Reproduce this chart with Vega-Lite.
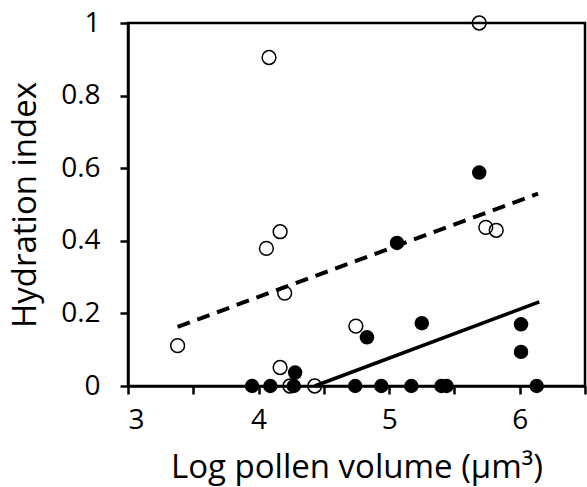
{
  "$schema": "https://vega.github.io/schema/vega-lite/v6.json",
  "width": 457,
  "height": 363,
  "autosize": {"type": "none"},
  "padding": {"left": 128, "top": 23, "right": 2, "bottom": 101},
  "background": "white",
  "config": {
    "view": {"stroke": "black", "strokeWidth": 2.5},
    "font": "Open Sans",
    "axis": {"grid": false, "domainColor": "black", "domainWidth": 2.5, "tickColor": "black", "tickWidth": 2.5, "tickSize": 8, "labelFont": "Open Sans", "labelFontSize": 28, "labelColor": "black", "titleFont": "Open Sans", "titleFontSize": 33, "titleFontWeight": "normal", "titleColor": "black"}
  },
  "datasets": {
    "pts": [
      {"x": 3.38, "y": 0.111, "g": "open"},
      {"x": 4.20, "y": 0.256, "g": "open"},
      {"x": 4.745, "y": 0.165, "g": "open"},
      {"x": 4.165, "y": 0.051, "g": "open"},
      {"x": 4.24, "y": 0.0, "g": "open"},
      {"x": 4.43, "y": 0.0, "g": "open"},
      {"x": 4.165, "y": 0.425, "g": "open"},
      {"x": 4.06, "y": 0.379, "g": "open"},
      {"x": 5.74, "y": 0.437, "g": "open"},
      {"x": 5.82, "y": 0.429, "g": "open"},
      {"x": 4.08, "y": 0.905, "g": "open"},
      {"x": 5.69, "y": 1.0, "g": "open"},
      {"x": 4.83, "y": 0.134, "g": "filled"},
      {"x": 5.25, "y": 0.173, "g": "filled"},
      {"x": 6.01, "y": 0.170, "g": "filled"},
      {"x": 6.01, "y": 0.094, "g": "filled"},
      {"x": 4.28, "y": 0.037, "g": "filled"},
      {"x": 5.69, "y": 0.588, "g": "filled"},
      {"x": 5.06, "y": 0.394, "g": "filled"},
      {"x": 3.95, "y": 0.0, "g": "filled"},
      {"x": 4.09, "y": 0.0, "g": "filled"},
      {"x": 4.27, "y": 0.0, "g": "filled"},
      {"x": 4.74, "y": 0.0, "g": "filled"},
      {"x": 4.94, "y": 0.0, "g": "filled"},
      {"x": 5.17, "y": 0.0, "g": "filled"},
      {"x": 5.40, "y": 0.0, "g": "filled"},
      {"x": 5.44, "y": 0.0, "g": "filled"},
      {"x": 6.13, "y": 0.0, "g": "filled"}
    ],
    "dashed": [
      {"x": 3.38, "y": 0.163},
      {"x": 6.14, "y": 0.530}
    ],
    "solid": [
      {"x": 4.43, "y": 0.0},
      {"x": 6.15, "y": 0.232}
    ]
  },
  "layer": [
    {
      "data": {"name": "dashed"},
      "mark": {"type": "line", "color": "black", "strokeWidth": 4, "strokeDash": [13, 8]},
      "encoding": {
        "x": {"field": "x", "type": "quantitative", "scale": {"domain": [3, 6.5], "nice": false, "zero": false},
          "axis": {"title": "Log pollen volume (µm³)", "values": [3, 3.5, 4, 4.5, 5, 5.5, 6, 6.5], "labelExpr": "datum.value % 1 === 0 ? format(datum.value, 'd') : ''", "labelPadding": 12, "titlePadding": 17}},
        "y": {"field": "y", "type": "quantitative", "scale": {"domain": [0, 1], "nice": false},
          "axis": {"title": "Hydration index", "values": [0, 0.05, 0.1, 0.15, 0.2, 0.25, 0.3, 0.35, 0.4, 0.45, 0.5, 0.55, 0.6, 0.65, 0.7, 0.75, 0.8, 0.85, 0.9, 0.95, 1], "labelExpr": "abs(datum.value*5 - round(datum.value*5)) < 0.001 ? format(datum.value, '') : ''", "labelPadding": 20, "titlePadding": 18}}
      }
    },
    {
      "data": {"name": "solid"},
      "mark": {"type": "line", "color": "black", "strokeWidth": 3.5},
      "encoding": {
        "x": {"field": "x", "type": "quantitative"},
        "y": {"field": "y", "type": "quantitative"}
      }
    },
    {
      "data": {"name": "pts"},
      "transform": [{"filter": "datum.g === 'open'"}],
      "mark": {"type": "point", "shape": "circle", "filled": false, "stroke": "black", "strokeWidth": 1.5, "fill": "white", "fillOpacity": 0, "size": 190, "opacity": 1},
      "encoding": {
        "x": {"field": "x", "type": "quantitative"},
        "y": {"field": "y", "type": "quantitative"}
      }
    },
    {
      "data": {"name": "pts"},
      "transform": [{"filter": "datum.g === 'filled'"}],
      "mark": {"type": "point", "shape": "circle", "filled": true, "color": "black", "size": 210, "opacity": 1},
      "encoding": {
        "x": {"field": "x", "type": "quantitative"},
        "y": {"field": "y", "type": "quantitative"}
      }
    }
  ]
}
